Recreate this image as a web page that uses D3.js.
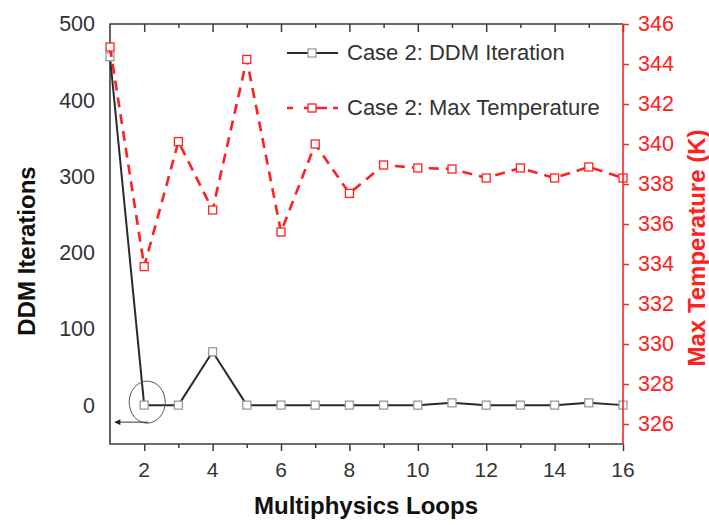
<!DOCTYPE html>
<html>
<head>
<meta charset="utf-8">
<script src="https://cdn.jsdelivr.net/npm/d3@7"></script>
<style>
  body { margin: 0; background: #fff; }
  svg text { font-family: "Liberation Sans", Arial, sans-serif; }
</style>
</head>
<body>
<svg id="chart" width="709" height="525"></svg>
<script>
'use strict'

const loops = [1, 2, 3, 4, 5, 6, 7, 8, 9, 10, 11, 12, 13, 14, 15, 16]
const ddmIterations = [457, 0, 0, 70, 0, 0, 0, 0, 0, 0, 3, 0, 0, 0, 3, 0]
const maxTemperature = [344.85, 333.87, 340.12, 336.7, 344.23, 335.6, 340.0, 337.53, 338.95, 338.8, 338.75, 338.3, 338.8, 338.3, 338.85, 338.3]
const xTicks = [2, 4, 6, 8, 10, 12, 14, 16]
const leftTicks = [0, 100, 200, 300, 400, 500]
const rightTicks = [326, 328, 330, 332, 334, 336, 338, 340, 342, 344, 346]
const seriesNames = ['Case 2: DDM Iteration', 'Case 2: Max Temperature']

const margin = { top: 24, right: 86, bottom: 81, left: 110 }
const width = 709, height = 525
const plotW = width - margin.left - margin.right
const plotH = height - margin.top - margin.bottom

const frameColor = '#3c3c3c', red = '#ff2020', textColor = '#333'

const x = d3.scaleLinear().domain([1, 16]).range([0, plotW])
const yL = d3.scaleLinear().domain([-51, 500]).range([plotH, 0])
const yR = d3.scaleLinear().domain([325, 346]).range([plotH, 0])

const svg = d3.select('#chart')
const g = svg.append('g')
    .attr('transform', 'translate(' + margin.left + ',' + margin.top + ')')

// bottom axis: ticks outward at every loop, labels on even ones
const xAxis = g.append('g')
    .attr('transform', 'translate(0,' + plotH + ')')
    .call(d3.axisBottom(x).tickValues(loops.slice(1))
        .tickSize(0).tickFormat(''))
xAxis.select('.domain').remove()
xAxis.selectAll('.tick line')
    .attr('y2', d => xTicks.includes(d) ? 7 : 4)
    .attr('stroke', frameColor).attr('stroke-width', 1.5)
xAxis.selectAll('.tick text').remove()
g.append('g')
    .attr('transform', 'translate(0,' + plotH + ')')
    .selectAll('text')
    .data(xTicks)
    .enter().append('text')
    .attr('x', d => x(d))
    .attr('y', 33)
    .attr('text-anchor', 'middle')
    .attr('font-size', 21)
    .attr('fill', textColor)
    .text(d => d)

// top axis: inward ticks
const topAxis = g.append('g')
    .call(d3.axisTop(x).tickValues(loops.slice(1)).tickSize(0).tickFormat(''))
topAxis.select('.domain').remove()
topAxis.selectAll('.tick line')
    .attr('y2', d => xTicks.includes(d) ? 8 : 4)
    .attr('stroke', frameColor).attr('stroke-width', 1.5)

// left axis labels (no ticks)
const leftAxis = g.append('g')
    .call(d3.axisLeft(yL).tickValues(leftTicks).tickSize(0).tickPadding(15))
leftAxis.select('.domain').remove()
leftAxis.selectAll('.tick text')
    .attr('font-size', 21.5)
    .attr('fill', textColor)
    .style('font-family', '"Liberation Sans", Arial, sans-serif')

// frame
g.append('path')
    .attr('d', 'M' + plotW + ',0H0V' + plotH + 'H' + plotW)
    .attr('fill', 'none')
    .attr('stroke', frameColor)
    .attr('stroke-width', 1.6)

// series
const ddmLine = d3.line().x((d, i) => x(loops[i])).y(d => yL(d))
const tempLine = d3.line().x((d, i) => x(loops[i])).y(d => yR(d))

g.append('path')
    .datum(ddmIterations)
    .attr('d', ddmLine)
    .attr('fill', 'none')
    .attr('stroke', '#2a2a2a')
    .attr('stroke-width', 2)

g.selectAll('.ddmPoint')
    .data(ddmIterations)
    .enter().append('rect')
    .classed('ddmPoint', true)
    .attr('x', (d, i) => x(loops[i]) - 4)
    .attr('y', d => yL(d) - 4)
    .attr('width', 8).attr('height', 8)
    .attr('fill', '#fff')
    .attr('stroke', '#9a9a9a')
    .attr('stroke-width', 1.3)

g.append('path')
    .datum(maxTemperature)
    .attr('d', tempLine)
    .attr('fill', 'none')
    .attr('stroke', red)
    .attr('stroke-width', 2.6)
    .attr('stroke-dasharray', '10,7')

g.selectAll('.tempPoint')
    .data(maxTemperature)
    .enter().append('rect')
    .classed('tempPoint', true)
    .attr('x', (d, i) => x(loops[i]) - 4)
    .attr('y', d => yR(d) - 4)
    .attr('width', 8).attr('height', 8)
    .attr('fill', '#fff')
    .attr('stroke', red)
    .attr('stroke-width', 1.3)

// right axis
const rightAxis = g.append('g')
    .attr('transform', 'translate(' + plotW + ',0)')
    .call(d3.axisRight(yR).tickValues(rightTicks).tickSize(6).tickPadding(9))
rightAxis.select('.domain').attr('stroke', red).attr('stroke-width', 1.6)
    .attr('d', 'M0,0V' + plotH)
rightAxis.selectAll('.tick line').attr('stroke', red).attr('stroke-width', 1.5)
rightAxis.selectAll('.tick text')
    .attr('font-size', 21.5)
    .attr('fill', red)
    .style('font-family', '"Liberation Sans", Arial, sans-serif')

// circle + arrow annotation around loop 2
const ax = x(2), ay = yL(0)
g.append('ellipse')
    .attr('cx', ax + 3).attr('cy', ay - 3)
    .attr('rx', 18).attr('ry', 21)
    .attr('fill', 'none')
    .attr('stroke', '#555')
    .attr('stroke-width', 1)
svg.append('defs').append('marker')
    .attr('id', 'arrowHead')
    .attr('viewBox', '0 0 10 10')
    .attr('refX', 9).attr('refY', 5)
    .attr('markerWidth', 9).attr('markerHeight', 6)
    .attr('markerUnits', 'userSpaceOnUse')
    .attr('orient', 'auto')
    .append('path')
    .attr('d', 'M10,5L0,0L0,10Z')
    .attr('fill', '#222')
g.append('line')
    .attr('x1', ax + 4).attr('y1', ay + 17)
    .attr('x2', x(1) + 5).attr('y2', ay + 17)
    .attr('stroke', '#333')
    .attr('stroke-width', 1)
    .attr('marker-end', 'url(#arrowHead)')

// legend
const legend = g.append('g').attr('transform', 'translate(177,29)')
const rows = legend.selectAll('g')
    .data(seriesNames)
    .enter().append('g')
    .attr('transform', (d, i) => 'translate(0,' + i * 55 + ')')
rows.append('line')
    .attr('x1', 0).attr('x2', 51)
    .attr('stroke', (d, i) => i ? red : '#2a2a2a')
    .attr('stroke-width', (d, i) => i ? 2.6 : 2)
    .attr('stroke-dasharray', (d, i) => i ? '6,11,5,4,14' : null)
rows.append('rect')
    .attr('x', 21).attr('y', -4)
    .attr('width', 8).attr('height', 8)
    .attr('fill', '#fff')
    .attr('stroke', (d, i) => i ? red : '#9a9a9a')
    .attr('stroke-width', 1.3)
rows.append('text')
    .attr('x', 60).attr('y', 7)
    .attr('font-size', 22)
    .attr('fill', textColor)
    .text(d => d)

// axis titles
svg.append('text')
    .attr('transform', 'translate(35,251) rotate(-90)')
    .attr('text-anchor', 'middle')
    .attr('font-size', 24)
    .attr('font-weight', 'bold')
    .attr('fill', '#111')
    .text('DDM Iterations')
svg.append('text')
    .attr('transform', 'translate(705,248) rotate(-90)')
    .attr('text-anchor', 'middle')
    .attr('font-size', 24)
    .attr('font-weight', 'bold')
    .attr('fill', red)
    .text('Max Temperature (K)')
svg.append('text')
    .attr('x', 366).attr('y', 514)
    .attr('text-anchor', 'middle')
    .attr('font-size', 24)
    .attr('font-weight', 'bold')
    .attr('fill', '#111')
    .text('Multiphysics Loops')
</script>
</body>
</html>
